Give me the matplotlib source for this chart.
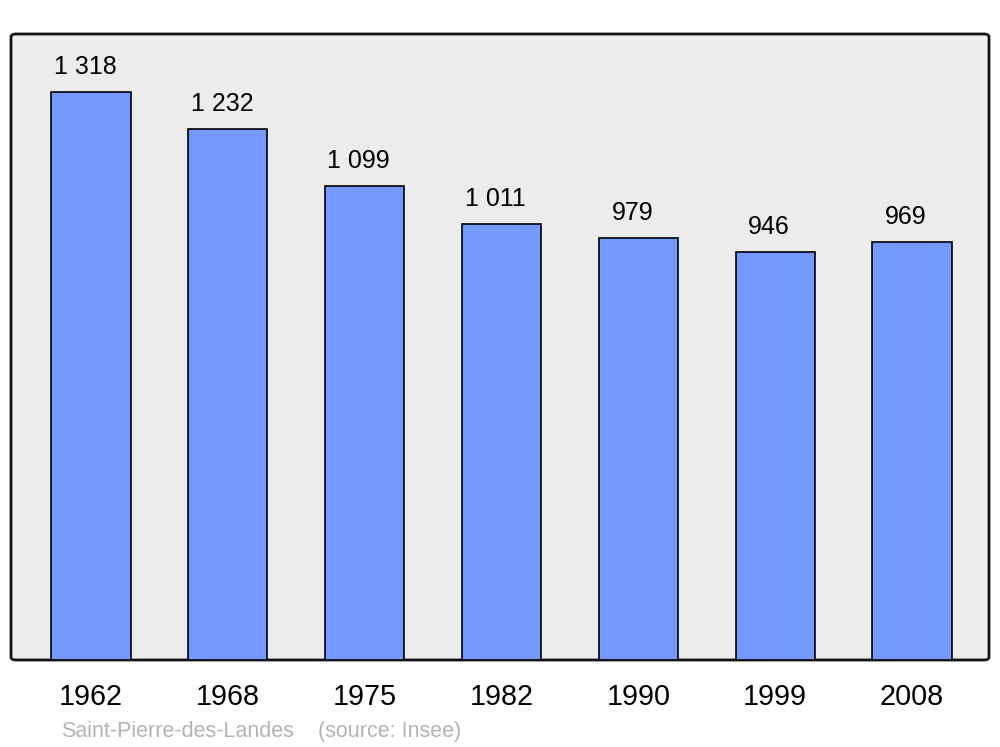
import matplotlib.pyplot as plt
from matplotlib.patches import FancyBboxPatch

plt.rcParams['font.family'] = ['Liberation Sans', 'DejaVu Sans']

# population par recensement
years = ['1962', '1968', '1975', '1982', '1990', '1999', '2008']
population = [1318, 1232, 1099, 1011, 979, 946, 969]
labels = ['1 318', '1 232', '1 099', '1 011', '979', '946', '969']

fig = plt.figure(figsize=(10, 7.47), dpi=100)
ax = fig.add_axes([0.011, 87 / 747, 0.978, 626 / 747])
ax.set_facecolor('none')

# fond gris arrondi derriere les barres
bg = FancyBboxPatch((0, 0), 1, 1, boxstyle='round,pad=0,rounding_size=0.005',
                    transform=ax.transAxes, facecolor='#ececec',
                    edgecolor='#111111', linewidth=2.0, zorder=0, clip_on=False)
ax.add_patch(bg)

x = list(range(len(years)))
ax.bar(x, population, width=0.578, color='#7399ff', edgecolor='black',
       linewidth=1.2, zorder=2)

for i, v in enumerate(population):
    ax.annotate(labels[i], (i, v), xytext=(-4.3, 18), textcoords='offset points',
                ha='center', va='center', fontsize=18, zorder=3)

ax.set_xlim(-0.585, 6.563)
ax.set_ylim(0, 1452)
ax.set_xticks(x)
ax.set_xticklabels(years, fontsize=20.7)
ax.tick_params(axis='x', length=0, pad=16.5)
ax.set_yticks([])
for s in ax.spines.values():
    s.set_visible(False)

fig.text(0.061, 1 - 737 / 747, 'Saint-Pierre-des-Landes', color='#b3b3b3',
         fontsize=15.5, va='baseline', ha='left')
fig.text(0.318, 1 - 737 / 747, '(source: Insee)', color='#b3b3b3',
         fontsize=15.5, va='baseline', ha='left')

fig.savefig('out.png', dpi=100)
